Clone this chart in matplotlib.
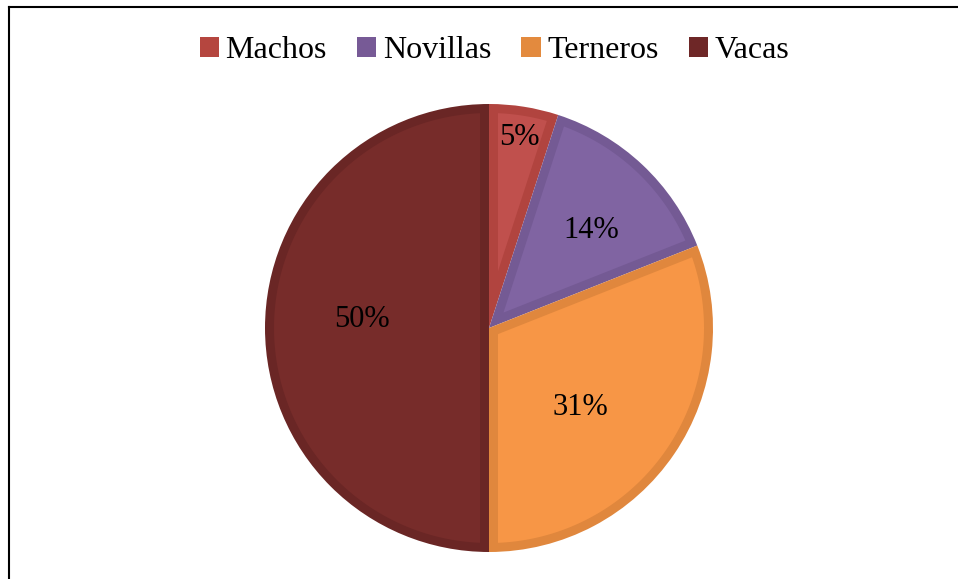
import numpy as np
import matplotlib
matplotlib.use("Agg")
import matplotlib.pyplot as plt
from matplotlib.patches import Patch, Polygon
from matplotlib.lines import Line2D

# data
categories = ['Machos', 'Novillas', 'Terneros', 'Vacas']
values = [5, 14, 31, 50]
fill_colors = ['#C0504D', '#8064A2', '#F79646', '#772C2A']
edge_colors = ['#B1443F', '#745A94', '#E0873D', '#6A2625']
legend_colors = ['#B5463F', '#775A96', '#E38A3E', '#6E2727']
# label placement (fraction of radius, angle shift in degrees)
label_r = [0.86, 0.63, 0.54, 0.57]
label_shift = [0, -3, -7, -4]

plt.rcParams['font.family'] = ['Liberation Serif', 'DejaVu Serif']

W, H = 958, 579
fig = plt.figure(figsize=(W / 100, H / 100), dpi=100)

cx, cy, R = 489, H - 328, 224
ax = fig.add_axes([(cx - R) / W, (cy - R) / H, 2 * R / W, 2 * R / H])

# base wedges in the border colour, inner inset polygons in the fill colour
wedges, _ = ax.pie(values, colors=edge_colors, startangle=90, counterclock=False,
                   radius=1, wedgeprops=dict(linewidth=0))
d = 9 / R  # border width in radius units
for w, fc in zip(wedges, fill_colors):
    t1, t2 = np.deg2rad(w.theta1), np.deg2rad(w.theta2)
    half = (t2 - t1) / 2
    mid = t1 + half
    off = d / np.sin(half)
    vx, vy = off * np.cos(mid), off * np.sin(mid)
    delta = np.arcsin(d / (1 - d))
    ts = np.linspace(t1 + delta, t2 - delta, 200)
    xs = np.concatenate([[vx], (1 - d) * np.cos(ts)])
    ys = np.concatenate([[vy], (1 - d) * np.sin(ts)])
    ax.add_patch(Polygon(np.column_stack([xs, ys]), closed=True, facecolor=fc,
                         edgecolor='none'))

for w, v, r, s in zip(wedges, values, label_r, label_shift):
    ang = np.deg2rad((w.theta1 + w.theta2) / 2 + s)
    ax.text(r * np.cos(ang), r * np.sin(ang), f'{v}%', ha='center', va='center',
            fontsize=22, color='black')
ax.set_xlim(-1, 1)
ax.set_ylim(-1, 1)
ax.axis('off')

handles = [Patch(facecolor=c, edgecolor='none') for c in legend_colors]
fig.legend(handles, categories, loc='center', bbox_to_anchor=(494.5 / W, 1 - 51 / H),
           ncol=4, frameon=False, fontsize=23, handlelength=0.6, handleheight=0.6,
           handletextpad=0.2, columnspacing=0.95, borderpad=0)

# frame lines (left and top)
fig.add_artist(Line2D([8.5 / W, 8.5 / W], [0, 1 - 6.5 / H], transform=fig.transFigure,
                      color='black', linewidth=1.5))
fig.add_artist(Line2D([8.5 / W, 1], [1 - 6.5 / H, 1 - 6.5 / H], transform=fig.transFigure,
                      color='black', linewidth=1.5))

fig.savefig('out.png', dpi=100)
